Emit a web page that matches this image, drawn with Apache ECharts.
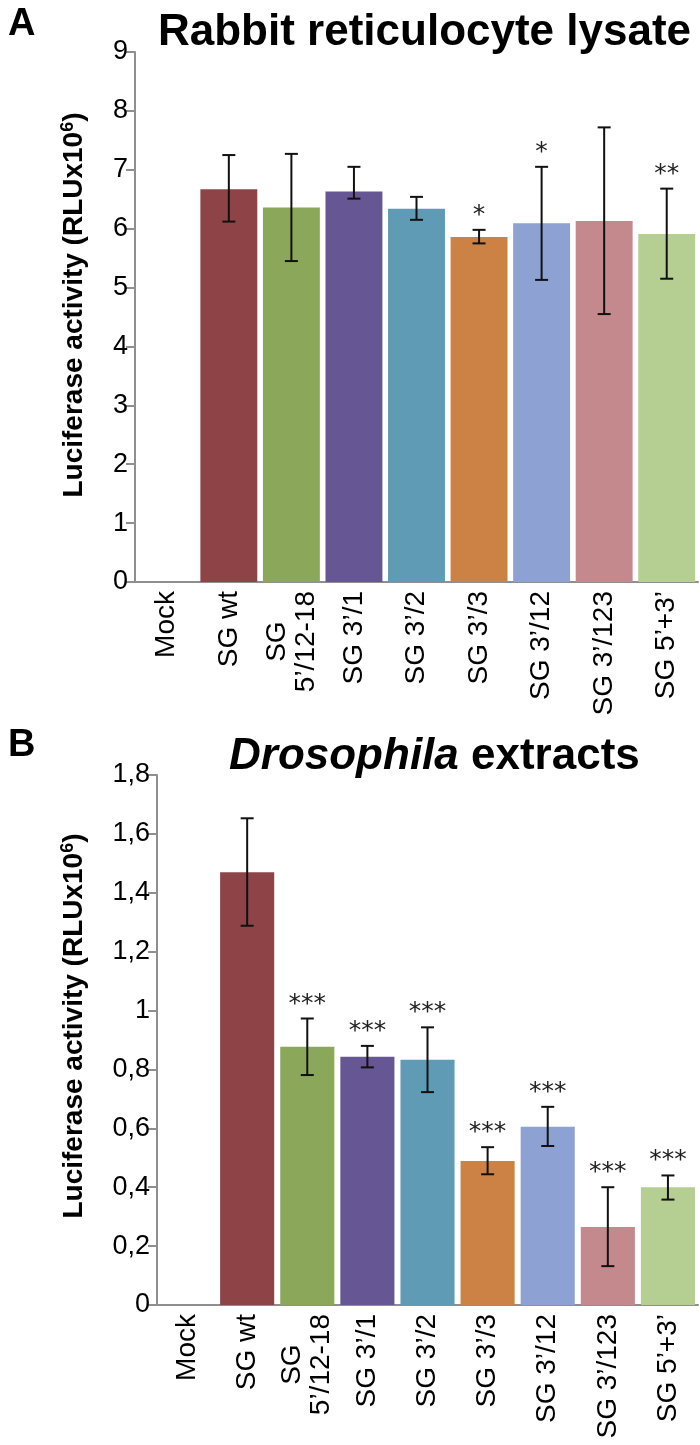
<!DOCTYPE html>
<html><head><meta charset="utf-8">
<script src="https://cdn.jsdelivr.net/npm/echarts@6/dist/echarts.min.js"></script>
<style>html,body{margin:0;padding:0;background:#fff}#c{width:700px;height:1445px}</style>
</head><body><div id="c"></div>
<script>
const categories = ['Mock', 'SG wt', 'SG\n5’/12-18', 'SG 3’/1', 'SG 3’/2', 'SG 3’/3', 'SG 3’/12', 'SG 3’/123', 'SG 5’+3’'];
const barColors = ['#ffffff', '#8E4446', '#8BA75A', '#665794', '#5F9BB5', '#CC8244', '#8DA2D3', '#C3898D', '#B5CF93'];

const valuesA = [0, 6.67, 6.36, 6.63, 6.34, 5.86, 6.09, 6.13, 5.91];
const errLowA = [null, 6.12, 5.45, 6.51, 6.15, 5.75, 5.13, 4.55, 5.15];
const errHighA = [null, 7.25, 7.27, 7.05, 6.54, 5.98, 7.05, 7.72, 6.68];
const starsA = ['', '', '', '', '', '*', '*', '', '**'];

const valuesB = [0, 1.47, 0.877, 0.843, 0.833, 0.489, 0.605, 0.265, 0.400];
const errLowB = [null, 1.288, 0.781, 0.807, 0.723, 0.444, 0.540, 0.132, 0.358];
const errHighB = [null, 1.653, 0.973, 0.880, 0.943, 0.536, 0.673, 0.400, 0.440];
const starsB = ['', '', '***', '***', '***', '***', '***', '***', '***'];

const yMaxA = 9, yStepA = 1;
const yMaxB = 1.8, yStepB = 0.2;

const FONT = 'Liberation Sans, Arial, sans-serif';
const axisGray = '#8f8f8f';

function errItems(lo, hi) {
  const out = [];
  for (let i = 0; i < lo.length; i++) if (lo[i] != null) out.push([i, lo[i], hi[i]]);
  return out;
}
function makeErrRender(stars) {
  return function (params, api) {
    const i = api.value(0);
    const lo = api.coord([i, api.value(1)]);
    const hi = api.coord([i, api.value(2)]);
    const h = 6.5;
    const st = { stroke: '#111', lineWidth: 2 };
    const children = [
      { type: 'line', shape: { x1: hi[0], y1: hi[1], x2: lo[0], y2: lo[1] }, style: st },
      { type: 'line', shape: { x1: hi[0] - h, y1: hi[1], x2: hi[0] + h, y2: hi[1] }, style: st },
      { type: 'line', shape: { x1: lo[0] - h, y1: lo[1], x2: lo[0] + h, y2: lo[1] }, style: st }
    ];
    const s = stars[i];
    if (s) children.push({ type: 'text', style: { text: s, x: hi[0], y: hi[1] - 2, align: 'center', verticalAlign: 'bottom', fill: '#222', font: '25px DejaVu Sans' } });
    return { type: 'group', children };
  };
}

const xLabel = {
  rotate: 90, margin: 9, color: '#000', fontSize: 28, fontFamily: FONT,
  formatter: v => v.split('\n').map(l => '{c|' + l + '}').join('\n'),
  rich: { c: { fontSize: 28, fontFamily: FONT, color: '#000', align: 'center', lineHeight: 29 } }
};
const yNameText = '{n|Luciferase activity (RLUx10}{s|6}{n|)}';
const yNameRich = {
  n: { fontSize: 28, fontWeight: 'bold', fontFamily: FONT, fill: '#000' },
  s: { fontSize: 18, fontWeight: 'bold', fontFamily: FONT, fill: '#000', padding: [0, 0, 12, 0] }
};

const chart = echarts.init(document.getElementById('c'), null, { renderer: 'canvas' });
chart.setOption({
  animation: false,
  backgroundColor: '#fff',
  title: [
    { text: 'A', left: 3, top: 1, textStyle: { fontSize: 38, fontWeight: 'bold', fontFamily: FONT, color: '#000' } },
    { text: 'Rabbit reticulocyte lysate', left: 153, top: 6, textStyle: { fontSize: 44, fontWeight: 'bold', fontFamily: FONT, color: '#000' } },
    { text: 'B', left: 3, top: 722, textStyle: { fontSize: 38, fontWeight: 'bold', fontFamily: FONT, color: '#000' } },
    { text: '{i|Drosophila}{b| extracts}', left: 224, top: 730, textStyle: { rich: {
      i: { fontSize: 44, fontWeight: 'bold', fontStyle: 'italic', fontFamily: FONT, color: '#000' },
      b: { fontSize: 44, fontWeight: 'bold', fontFamily: FONT, color: '#000' } } } }
  ],
  graphic: [
    { type: 'text', x: 74, y: 305, rotation: Math.PI / 2,
      style: { text: yNameText, rich: yNameRich, align: 'center', verticalAlign: 'middle' } },
    { type: 'text', x: 74, y: 1026, rotation: Math.PI / 2,
      style: { text: yNameText, rich: yNameRich, align: 'center', verticalAlign: 'middle' } }
  ],
  grid: [
    { left: 135, top: 52, right: 2, height: 530 },
    { left: 157, top: 775, right: 2, height: 530 }
  ],
  xAxis: [0, 1].map(g => ({
    type: 'category', gridIndex: g, data: categories,
    axisLine: { lineStyle: { color: axisGray, width: 2 } },
    axisTick: { show: false }, axisLabel: xLabel
  })),
  yAxis: [
    { type: 'value', gridIndex: 0, min: 0, max: yMaxA, interval: yStepA,
      splitLine: { show: false },
      axisLine: { show: true, lineStyle: { color: axisGray, width: 2 } },
      axisTick: { show: true, length: 9, lineStyle: { color: axisGray, width: 2 } },
      axisLabel: { fontSize: 27, fontFamily: FONT, color: '#000', margin: 7 } },
    { type: 'value', gridIndex: 1, min: 0, max: yMaxB, interval: yStepB,
      splitLine: { show: false },
      axisLine: { show: true, lineStyle: { color: axisGray, width: 2 } },
      axisTick: { show: true, length: 9, lineStyle: { color: axisGray, width: 2 } },
      axisLabel: { fontSize: 27, fontFamily: FONT, color: '#000', margin: 7,
        formatter: v => String(Math.round(v * 10) / 10).replace('.', ',') } }
  ],
  series: [
    { type: 'bar', xAxisIndex: 0, yAxisIndex: 0, barCategoryGap: '9%',
      data: valuesA.map((v, i) => ({ value: v, itemStyle: { color: barColors[i] } })) },
    { type: 'custom', xAxisIndex: 0, yAxisIndex: 0, renderItem: makeErrRender(starsA),
      data: errItems(errLowA, errHighA), z: 5 },
    { type: 'bar', xAxisIndex: 1, yAxisIndex: 1, barCategoryGap: '10%',
      data: valuesB.map((v, i) => ({ value: v, itemStyle: { color: barColors[i] } })) },
    { type: 'custom', xAxisIndex: 1, yAxisIndex: 1, renderItem: makeErrRender(starsB),
      data: errItems(errLowB, errHighB), z: 5 }
  ]
});
</script>
</body></html>
